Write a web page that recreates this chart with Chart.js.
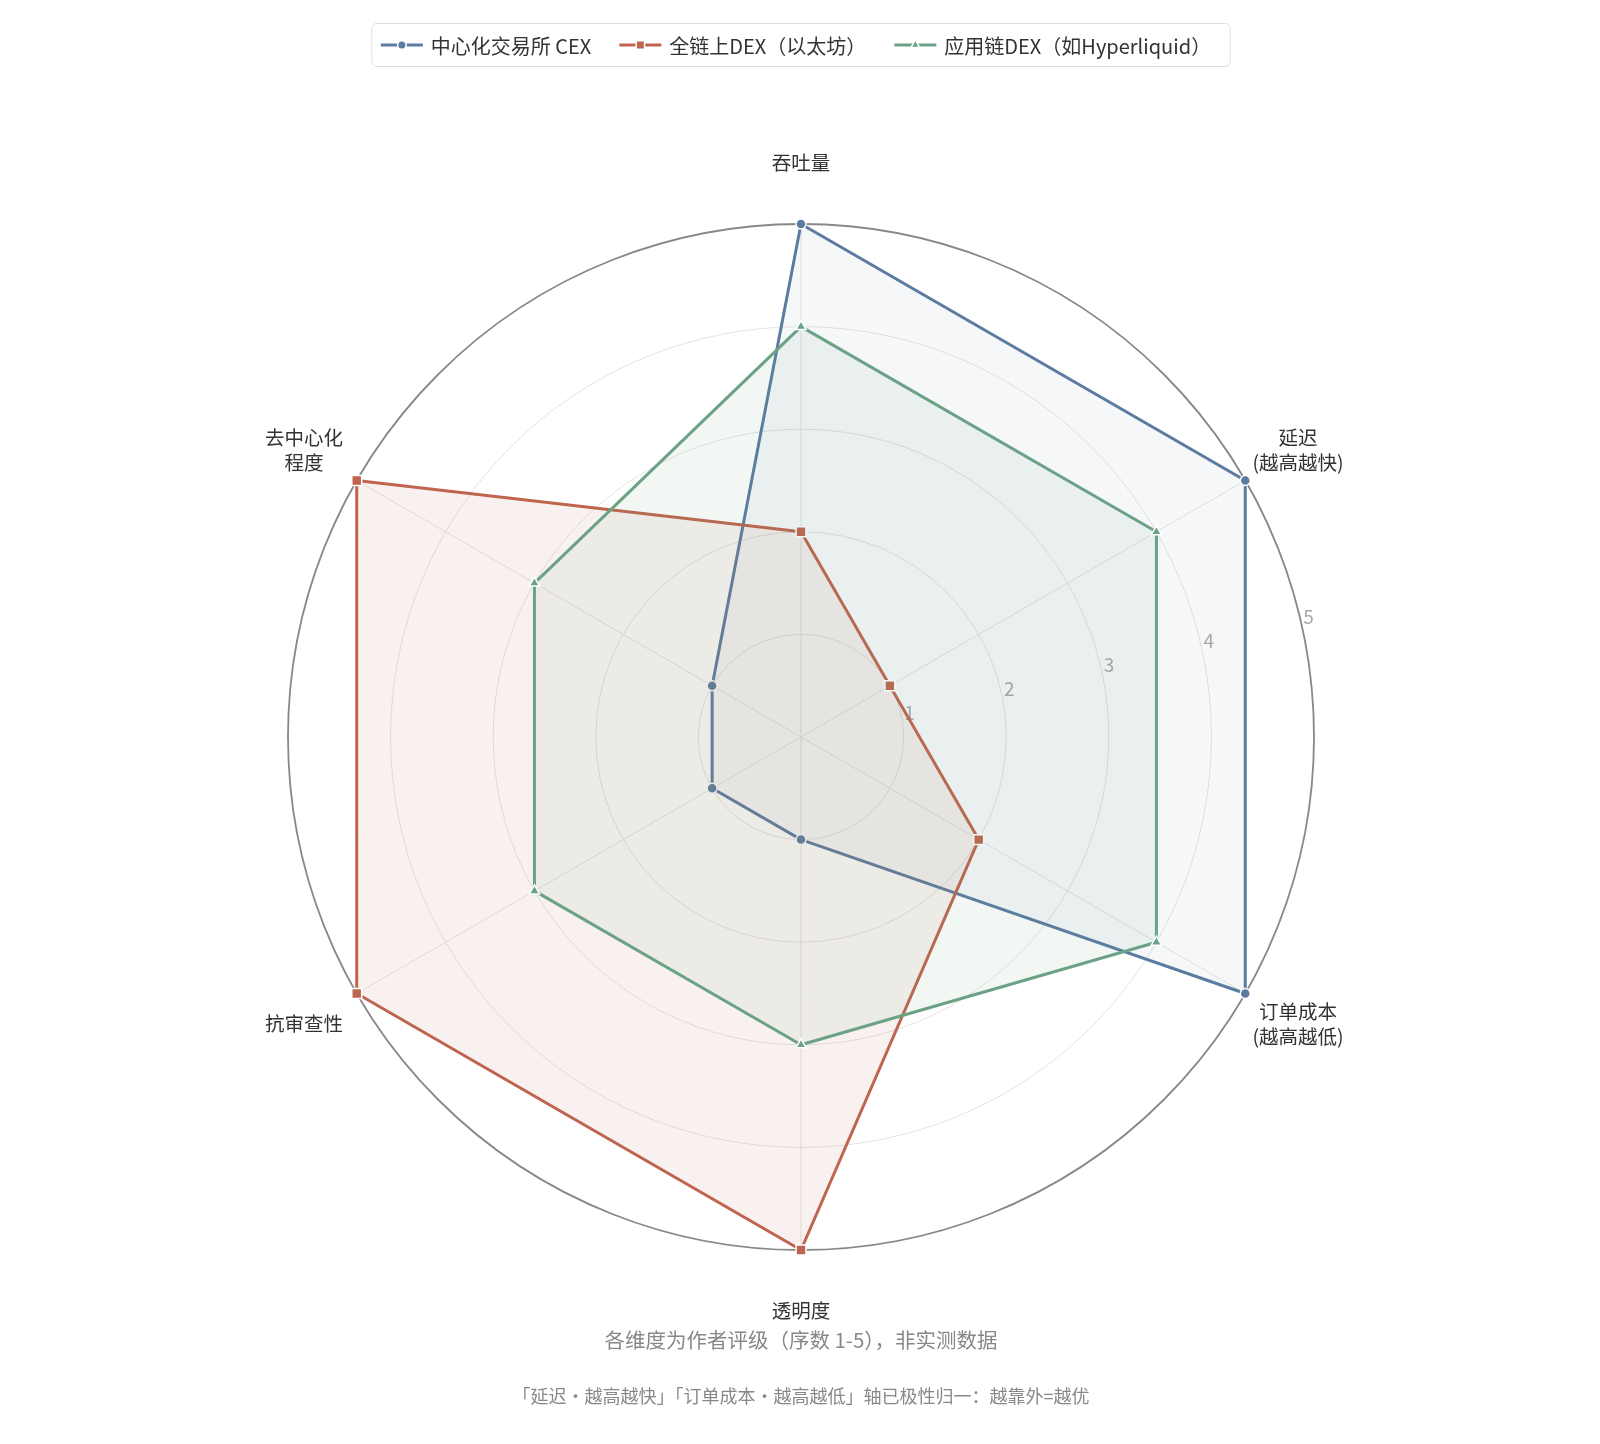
<!DOCTYPE html>
<html><head><meta charset="utf-8">
<script src="https://cdn.jsdelivr.net/npm/chart.js@4.4.1/dist/chart.umd.min.js"></script>
<style>html,body{margin:0;padding:0;background:#fff;} #wrap{width:1600px;height:1444px;position:relative;}</style>
</head><body><div id="wrap"><canvas id="c" width="1600" height="1444"></canvas></div>
<script>
// ---- data ----
const categories = ['吞吐量', ['延迟', '(越高越快)'], ['订单成本', '(越高越低)'], '透明度', '抗审查性', ['去中心化', '程度']];
const seriesNames = ['中心化交易所 CEX', '全链上DEX（以太坊）', '应用链DEX（如Hyperliquid）'];
const cexValues = [5, 5, 5, 1, 1, 1];
const dexValues = [2, 1, 2, 5, 5, 5];
const appValues = [4, 4, 4, 3, 3, 3];
const tickValues = [1, 2, 3, 4, 5];
const footNotes = ['各维度为作者评级（序数 1-5），非实测数据', '「延迟・越高越快」「订单成本・越高越低」轴已极性归一：越靠外=越优'];

// ---- styles ----
const FONT = "'Noto Sans CJK SC','Noto Sans',sans-serif";
const colors = ['#5b7ba1', '#bf644e', '#6ba286'];
const fills = ['rgba(91,123,161,0.06)', 'rgba(191,100,78,0.09)', 'rgba(107,162,134,0.09)'];
const shapes = ['circle', 'rect', 'triangle'];
const radii = [5, 7, 6];

function drawMarker(ctx, shape, x, y, r, color) {
  ctx.save();
  ctx.fillStyle = color; ctx.strokeStyle = '#fff'; ctx.lineWidth = 1.5;
  ctx.beginPath();
  if (shape === 'circle') { ctx.arc(x, y, r, 0, Math.PI * 2); }
  else if (shape === 'rect') { const h = r * Math.SQRT1_2; ctx.rect(x - h, y - h, 2 * h, 2 * h); }
  else { ctx.moveTo(x, y - r); ctx.lineTo(x + r * 0.866, y + r * 0.5); ctx.lineTo(x - r * 0.866, y + r * 0.5); ctx.closePath(); }
  ctx.fill(); ctx.stroke();
  ctx.restore();
}

const decor = {
  id: 'decor',
  beforeDatasetsDraw(chart) {
    const s = chart.scales.r, ctx = chart.ctx;
    ctx.save();
    ctx.font = '19px ' + FONT; ctx.fillStyle = '#aaaaaa';
    ctx.textAlign = 'center'; ctx.textBaseline = 'middle';
    const a = 76.5 * Math.PI / 180;
    tickValues.forEach(v => {
      const d = s.getDistanceFromCenterForValue(v) + 9;
      ctx.fillText(String(v), s.xCenter + d * Math.sin(a), s.yCenter - d * Math.cos(a) + 2);
    });
    ctx.restore();
  },
  afterDraw(chart) {
    const s = chart.scales.r, ctx = chart.ctx;
    ctx.save();
    // point labels
    ctx.font = '19.5px ' + FONT; ctx.fillStyle = '#333333';
    ctx.textAlign = 'center'; ctx.textBaseline = 'middle';
    categories.forEach((lab, i) => {
      const p = s.getPointPosition(i, s.drawingArea + 61);
      const lines = Array.isArray(lab) ? lab : [lab];
      const lh = 24.5;
      const y0 = p.y - (lines.length - 1) * lh / 2;
      lines.forEach((t, k) => ctx.fillText(t, p.x, y0 + k * lh));
    });
    // legend
    ctx.font = '20px ' + FONT;
    const markW = 42, gapT = 8, gapItem = 28, padL = 9, padR = 19;
    const widths = seriesNames.map(n => ctx.measureText(n).width);
    let total = padL + padR;
    widths.forEach((w, i) => { total += markW + gapT + w + (i < widths.length - 1 ? gapItem : 0); });
    const bx = s.xCenter - total / 2, by = 23.5, bh = 43;
    ctx.beginPath();
    if (ctx.roundRect) ctx.roundRect(bx, by, total, bh, 5); else ctx.rect(bx, by, total, bh);
    ctx.fillStyle = 'rgba(255,255,255,0.9)'; ctx.fill();
    ctx.strokeStyle = '#dddddd'; ctx.lineWidth = 1; ctx.stroke();
    let x = bx + padL; const cy = by + bh / 2;
    seriesNames.forEach((n, i) => {
      ctx.strokeStyle = colors[i]; ctx.lineWidth = 3;
      ctx.beginPath(); ctx.moveTo(x, cy); ctx.lineTo(x + markW, cy); ctx.stroke();
      drawMarker(ctx, shapes[i], x + markW / 2, cy, radii[i] * 0.85, colors[i]);
      ctx.fillStyle = '#333333'; ctx.textAlign = 'left'; ctx.textBaseline = 'middle';
      ctx.fillText(n, x + markW + gapT, cy + 1);
      x += markW + gapT + widths[i] + gapItem;
    });
    // footnotes
    ctx.textAlign = 'center'; ctx.textBaseline = 'middle';
    ctx.fillStyle = '#888888';
    ctx.font = '20.5px ' + FONT;
    ctx.fillText(footNotes[0], s.xCenter, 1340);
    ctx.font = '18px ' + FONT;
    ctx.fillText(footNotes[1], s.xCenter, 1396);
    ctx.restore();
  }
};

const values = [cexValues, dexValues, appValues];
const datasets = values.map((v, i) => ({
  label: seriesNames[i],
  data: v,
  borderColor: colors[i],
  backgroundColor: fills[i],
  borderWidth: 3,
  fill: true,
  pointStyle: shapes[i],
  pointRadius: radii[i],
  pointHoverRadius: radii[i],
  pointBackgroundColor: colors[i],
  pointBorderColor: '#ffffff',
  pointBorderWidth: 1.5,
  order: 3 - i
}));

new Chart(document.getElementById('c'), {
  type: 'radar',
  data: { labels: categories, datasets },
  options: {
    responsive: false,
    animation: false,
    devicePixelRatio: 1,
    layout: { padding: { left: 288, right: 286, top: 224, bottom: 194 } },
    plugins: { legend: { display: false }, tooltip: { enabled: false } },
    elements: { line: { tension: 0, borderJoinStyle: 'round' } },
    scales: {
      r: {
        min: 0, max: 5,
        ticks: { display: false, stepSize: 1 },
        pointLabels: { display: false },
        angleLines: { color: '#e4e4e4', lineWidth: 1 },
        grid: {
          circular: true,
          color: ctx => (ctx.tick && ctx.tick.value === 5) ? '#888888' : '#e4e4e4',
          lineWidth: ctx => (ctx.tick && ctx.tick.value === 5) ? 1.8 : 1
        }
      }
    }
  },
  plugins: [decor]
});
</script>
</body></html>
